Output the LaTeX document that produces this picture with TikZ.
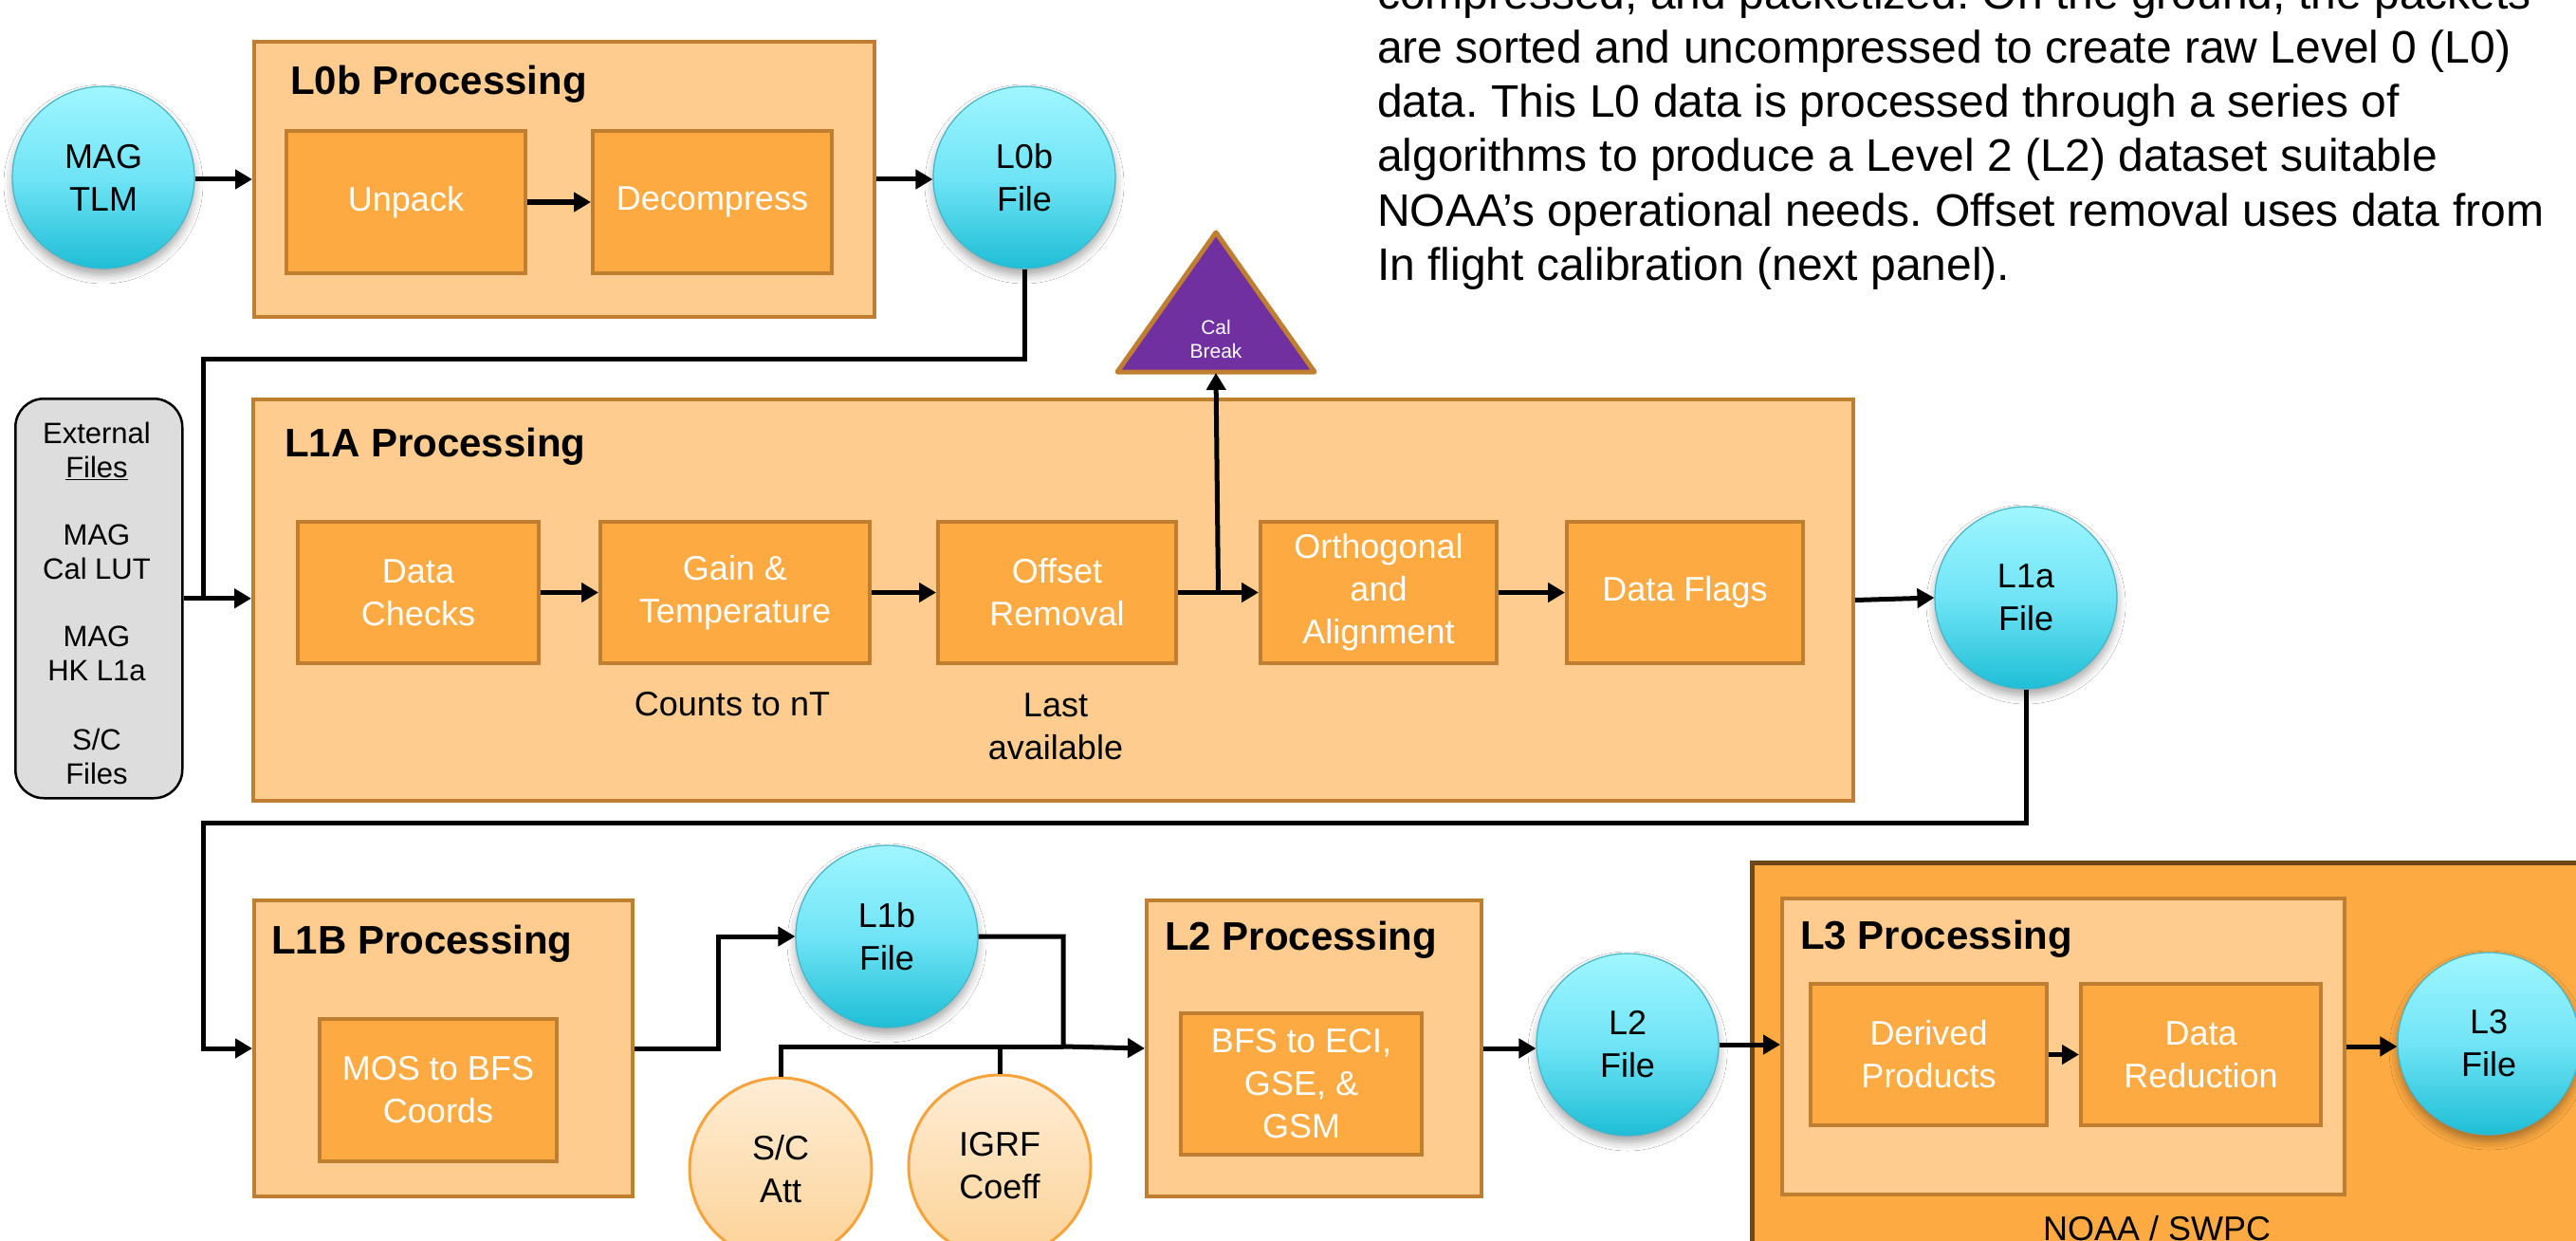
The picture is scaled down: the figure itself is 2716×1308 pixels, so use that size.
\documentclass[tikz,border=0pt]{standalone}
\usepackage{fontspec}
\setmainfont{Liberation Sans}
\frenchspacing
\usetikzlibrary{arrows.meta,calc,shadows.blur}
\definecolor{procfill}{RGB}{254,204,142}
\definecolor{procborder}{RGB}{192,127,48}
\definecolor{stepfill}{RGB}{253,170,66}
\definecolor{outerborder}{RGB}{112,71,25}
\definecolor{filetop}{RGB}{160,246,255}
\definecolor{filemid}{RGB}{112,228,246}
\definecolor{filebot}{RGB}{30,190,214}
\definecolor{fileedge}{RGB}{70,180,200}
\definecolor{ortop}{RGB}{254,237,214}
\definecolor{orbot}{RGB}{253,210,150}
\definecolor{oredge}{RGB}{247,163,60}
\definecolor{extfill}{RGB}{221,221,221}
\definecolor{calfill}{RGB}{112,48,160}
\begin{document}
\begin{tikzpicture}[x=1pt,y=-1pt,
  procbox/.style={draw=procborder, fill=procfill, line width=4pt, rectangle, inner sep=0pt, anchor=north west},
  stepbox/.style={draw=procborder, fill=stepfill, line width=4pt, rectangle, inner sep=0pt, anchor=north west,
     text=white, align=center, font=\fontsize{36}{45}\selectfont},
  titletext/.style={anchor=base west, inner sep=0pt, font=\fontsize{42}{50}\selectfont\bfseries},
  filecirc/.style={circle, minimum size=192pt, inner sep=0pt, draw=fileedge, line width=1.2pt,
     top color=filetop, bottom color=filebot, middle color=filemid,
     blur shadow={shadow xshift=0pt, shadow yshift=-7pt, shadow blur radius=9pt, shadow opacity=35},
     align=center, font=\fontsize{36}{45}\selectfont},
  orcirc/.style={circle, minimum size=192pt, inner sep=0pt, draw=oredge, line width=3pt,
     top color=ortop, bottom color=orbot, align=center, font=\fontsize{36}{45}\selectfont},
  lbl/.style={align=center, inner sep=0pt, font=\fontsize{36}{45}\selectfont},
  exttext/.style={align=center, inner sep=0pt, font=\fontsize{31}{36}\selectfont},
  bodytext/.style={anchor=base west, inner sep=0pt, font=\fontsize{48}{57}\selectfont},
  ln/.style={line width=5pt, draw=black},
  arr/.style={line width=5pt, draw=black, -{Triangle[length=18pt,width=20pt]}}
]
\useasboundingbox (0,0) rectangle (2716,1308);
\fill[white] (0,0) rectangle (2716,1308);
\clip (0,0) rectangle (2716,1308);

% ---------- text block ----------
\node[bodytext] (t1) at (1452,10) {compressed, and packetized. On the ground, the packets};
\node[bodytext] (t2) at (1452,67) {are sorted and uncompressed to create raw Level 0 (L0)};
\node[bodytext] (t3) at (1452,124) {data. This L0 data is processed through a series of};
\node[bodytext] (t4) at (1452,181) {algorithms to produce a Level 2 (L2) dataset suitable};
\node[bodytext] (t5) at (1452,238) {NOAA’s operational needs. Offset removal uses data from};
\node[bodytext] (t6) at (1452,295) {In flight calibration (next panel).};

% ---------- L0b ----------
\node[procbox, minimum width=654pt, minimum height=290pt] (l0b) at (266,42) {};
\node[titletext] (l0bt) at (306,100) {L0b Processing};
\node[stepbox, minimum width=252pt, minimum height=150pt] (unpack) at (300,136) {Unpack};
\node[stepbox, minimum width=252pt, minimum height=150pt] (decomp) at (623,136) {Decompress};
\node[filecirc] (mag) at (109,187) {MAG\\TLM};
\node[filecirc] (l0bfile) at (1080,187) {L0b\\File};

% ---------- External files ----------
\node[draw=black, fill=extfill, line width=2.5pt, rounded corners=30pt, inner sep=0pt, anchor=north west,
      minimum width=176pt, minimum height=421pt] (ext) at (15,419) {};
\node[exttext] (e1) at (102,475) {External\\\underline{Files}};
\node[exttext] (e2) at (102,582) {MAG\\Cal LUT};
\node[exttext] (e3) at (102,689) {MAG\\HK L1a};
\node[exttext] (e4) at (102,797) {S/C\\Files};

% ---------- L1A ----------
\node[procbox, minimum width=1687pt, minimum height=423pt] (l1a) at (265,419) {};
\node[titletext] (l1at) at (300,481) {L1A Processing};
\node[stepbox, minimum width=254pt, minimum height=149pt] (chk) at (312,548) {Data\\Checks};
\node[stepbox, minimum width=284pt, minimum height=149pt] (gain) at (631,548) {Gain \&\\Temperature};
\node[stepbox, minimum width=251pt, minimum height=149pt] (offs) at (987,548) {Offset\\Removal};
\node[stepbox, minimum width=249pt, minimum height=149pt] (orth) at (1327,548) {Orthogonal\\and\\Alignment};
\node[stepbox, minimum width=249pt, minimum height=149pt] (flags) at (1650,548) {Data Flags};
\node[lbl] (counts) at (772,742) {Counts to nT};
\node[lbl] (last) at (1113,766) {Last\\available};
\node[filecirc] (l1afile) at (2136,630) {L1a\\File};

% ---------- Cal break ----------
\draw[draw=procborder, fill=calfill, line width=5pt, line join=round] (1282,245) -- (1386,392) -- (1178,392) -- cycle;
\coordinate (calb) at (1282,393);
\node[align=center, inner sep=0pt, text=white, font=\fontsize{21}{25}\selectfont] (calt) at (1282,357) {Cal\\Break};

% ---------- L1B ----------
\node[procbox, minimum width=399pt, minimum height=312pt] (l1b) at (266,947) {};
\node[titletext] (l1bt) at (286,1005) {L1B Processing};
\node[stepbox, minimum width=250pt, minimum height=150pt] (mos) at (335,1072) {MOS to BFS\\Coords};
\node[filecirc] (l1bfile) at (935,987) {L1b\\File};
\node[orcirc] (scatt) at (823,1232) {S/C\\Att};
\node[orcirc] (igrf) at (1054,1229) {IGRF\\Coeff};

% ---------- L2 ----------
\node[procbox, minimum width=353pt, minimum height=312pt] (l2) at (1207,947) {};
\node[titletext] (l2t) at (1228,1001) {L2 Processing};
\node[stepbox, minimum width=254pt, minimum height=149pt] (bfs) at (1243,1066) {BFS to ECI,\\GSE, \&\\GSM};
\node[filecirc] (l2file) at (1716,1101) {L2\\File};

% ---------- L3 ----------
\node[draw=outerborder, fill=stepfill, line width=5pt, inner sep=0pt, anchor=north west,
      minimum width=1000pt, minimum height=500pt] (l3out) at (1845,907) {};
\node[procbox, minimum width=593pt, minimum height=312pt] (l3in) at (1877,945) {};
\node[titletext] (l3t) at (1898,1000) {L3 Processing};
\node[stepbox, minimum width=249pt, minimum height=149pt] (derived) at (1907,1035) {Derived\\Products};
\node[stepbox, minimum width=253pt, minimum height=149pt] (datared) at (2192,1035) {Data\\Reduction};
\node[filecirc] (l3file) at (2624,1100) {L3\\File};
\node[anchor=base, inner sep=0pt, font=\fontsize{36}{45}\selectfont] (noaa) at (2274,1307) {NOAA / SWPC};

% ---------- connectors ----------
\coordinate (j1) at (214,630);
\coordinate (jb) at (214,867);
\coordinate (j2) at (1121,1103);
\coordinate (jc) at ($(offs.east)!0.5!(orth.west)$);

\draw[arr] (mag.east |- l0b.west) -- (l0b.west);
\draw[arr] (unpack.east) -- (decomp.west);
\draw[arr] (l0b.east) -- (l0b.east -| l0bfile.west);
\draw[ln] (l0bfile.south) -- ++(0,95) -| (j1);
\draw[arr] (ext.east) -- (ext.east -| l1a.west);
\draw[arr] (chk.east) -- (gain.west);
\draw[arr] (gain.east) -- (offs.west);
\draw[arr] (offs.east) -- (orth.west);
\draw[arr] (orth.east) -- (flags.west);
\draw[arr] (jc) -- (calb);
\draw[arr] (l1a.east) -- (l1afile.west);
\draw[arr] (l1afile.south) |- (jb) |- (l1b.west);
\draw[arr] (l1b.east) -- ++(88,0) |- (l1bfile.west);
\draw[ln] (scatt.north) |- (j2);
\draw[ln] (igrf.north) -- (igrf.north |- j2);
\draw[arr] (l1bfile.east) -| (j2) -- (l2.west);
\draw[arr] (l2.east) -- (l2.east -| l2file.west);
\draw[arr] (l2file.east) -- (l2file.east -| l3in.west);
\draw[arr] (derived.east) -- (datared.west);
\draw[arr] (l3in.east) -- (l3in.east -| l3file.west);
\end{tikzpicture}
\end{document}
